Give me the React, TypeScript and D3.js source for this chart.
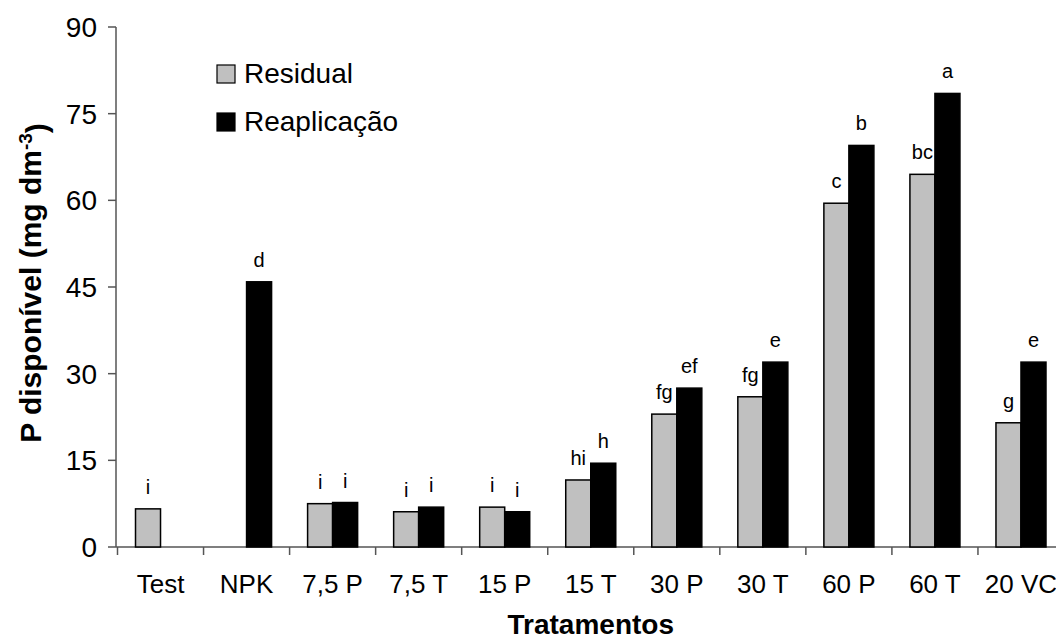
import * as d3 from "d3";
import React, { useEffect, useRef } from "react";

const categories = ["Test", "NPK", "7,5 P", "7,5 T", "15 P", "15 T", "30 P", "30 T", "60 P", "60 T", "20 VC"];
const seriesNames = ["Residual", "Reaplicação"];
const residual = [6.6, null, 7.5, 6.1, 6.9, 11.6, 23.0, 26.0, 59.5, 64.5, 21.5];
const reaplicacao = [null, 45.9, 7.7, 6.9, 6.1, 14.5, 27.5, 32.0, 69.5, 78.5, 32.0];
const residualLetters = ["i", "", "i", "i", "i", "hi", "fg", "fg", "c", "bc", "g"];
const reaplicacaoLetters = ["", "d", "i", "i", "i", "h", "ef", "e", "b", "a", "e"];
const yTicks = [0, 15, 30, 45, 60, 75, 90];

const FONT = "'Liberation Sans', Arial, Helvetica, sans-serif";
const fills = ["#c0c0c0", "#000000"];

const App = () => {
  const svgRef = useRef<SVGSVGElement>(null);

  useEffect(() => {
    const width = 1056,
      height = 640;
    const svg = d3.select(svgRef.current);
    svg.selectAll("*").remove();

    const x = d3.scaleBand().domain(categories).range([117.5, 1064]).padding(0);
    const xs = d3
      .scaleBand()
      .domain(seriesNames)
      .range([0, x.bandwidth()])
      .paddingInner(0)
      .paddingOuter(0.72);
    const y = d3.scaleLinear().domain([0, 90]).range([547, 27]);

    const axisColor = "#555";

    // y axis
    svg
      .append("line")
      .attr("x1", 116)
      .attr("x2", 116)
      .attr("y1", y(90))
      .attr("y2", y(0))
      .attr("stroke", axisColor)
      .attr("stroke-width", 1.5);
    const yt = svg.append("g").selectAll("g").data(yTicks).enter().append("g");
    yt.append("line")
      .attr("x1", 108)
      .attr("x2", 116)
      .attr("y1", (d) => y(d))
      .attr("y2", (d) => y(d))
      .attr("stroke", axisColor)
      .attr("stroke-width", 1.5);
    yt.append("text")
      .attr("x", 97)
      .attr("y", (d) => y(d))
      .attr("dy", "0.36em")
      .attr("text-anchor", "end")
      .style("font-family", FONT)
      .style("font-size", "28px")
      .text((d) => d);

    // x axis
    svg
      .append("line")
      .attr("x1", 116)
      .attr("x2", width)
      .attr("y1", y(0))
      .attr("y2", y(0))
      .attr("stroke", axisColor)
      .attr("stroke-width", 1.5);
    const bounds = categories.map((c) => x(c) as number).concat([x.range()[1]]);
    svg
      .append("g")
      .selectAll("line")
      .data(bounds)
      .enter()
      .append("line")
      .attr("x1", (d) => d)
      .attr("x2", (d) => d)
      .attr("y1", y(0))
      .attr("y2", y(0) + 8)
      .attr("stroke", axisColor)
      .attr("stroke-width", 1.5);
    svg
      .append("g")
      .selectAll("text")
      .data(categories)
      .enter()
      .append("text")
      .attr("x", (d) => (x(d) as number) + x.bandwidth() / 2)
      .attr("y", 593)
      .attr("text-anchor", "middle")
      .style("font-family", FONT)
      .style("font-size", "26px")
      .text((d) => d);

    // bars + letters
    const seriesValues = [residual, reaplicacao];
    const seriesLetters = [residualLetters, reaplicacaoLetters];
    seriesNames.forEach((s, si) => {
      const rows = categories
        .map((c, i) => ({ c, v: seriesValues[si][i], l: seriesLetters[si][i] }))
        .filter((d) => d.v !== null) as { c: string; v: number; l: string }[];
      const g = svg.append("g");
      g.selectAll("rect")
        .data(rows)
        .enter()
        .append("rect")
        .attr("x", (d) => (x(d.c) as number) + (xs(s) as number))
        .attr("y", (d) => y(d.v))
        .attr("width", xs.bandwidth())
        .attr("height", (d) => y(0) - y(d.v))
        .attr("fill", fills[si])
        .attr("stroke", "#000")
        .attr("stroke-width", 1.5);
      g.selectAll("text")
        .data(rows)
        .enter()
        .append("text")
        .attr("x", (d) => (x(d.c) as number) + (xs(s) as number) + xs.bandwidth() / 2)
        .attr("y", (d) => y(d.v) - 15)
        .attr("text-anchor", "middle")
        .style("font-family", FONT)
        .style("font-size", "20px")
        .text((d) => d.l);
    });

    // legend
    const leg = svg
      .append("g")
      .selectAll("g")
      .data(seriesNames)
      .enter()
      .append("g")
      .attr("transform", (d, i) => `translate(217,${65 + i * 48})`);
    leg
      .append("rect")
      .attr("width", 18)
      .attr("height", 18)
      .attr("fill", (d, i) => fills[i])
      .attr("stroke", "#000")
      .attr("stroke-width", 1.2);
    leg
      .append("text")
      .attr("x", 27)
      .attr("y", 18)
      .style("font-family", FONT)
      .style("font-size", "28px")
      .text((d) => d);

    // axis titles
    svg
      .append("text")
      .attr("x", (x.range()[0] + x.range()[1]) / 2)
      .attr("y", 634)
      .attr("text-anchor", "middle")
      .style("font-family", FONT)
      .style("font-size", "28px")
      .style("font-weight", "bold")
      .text("Tratamentos");

    const yTitle = svg
      .append("text")
      .attr("transform", `translate(41,283) rotate(-90)`)
      .attr("text-anchor", "middle")
      .style("font-family", FONT)
      .style("font-size", "30px")
      .style("font-weight", "bold");
    yTitle.append("tspan").text("P disponível (mg dm");
    yTitle.append("tspan").attr("dy", "-0.5em").style("font-size", "19px").text("-3");
    yTitle.append("tspan").attr("dy", "0.5em").text(")");

    svg.attr("width", width).attr("height", height);
  }, []);

  return (
    <svg
      ref={svgRef}
      width={1056}
      height={640}
      style={{ position: "absolute", left: 0, top: 0, background: "#fff" }}
    ></svg>
  );
};

export default App;
